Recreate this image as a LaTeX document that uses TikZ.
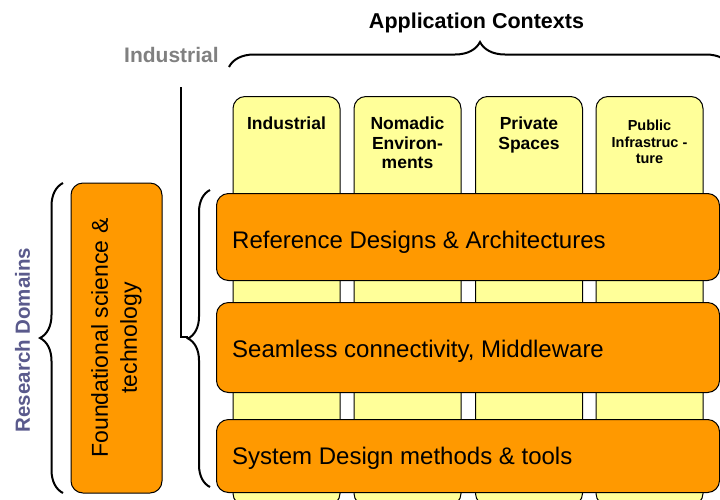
\documentclass[tikz,border=0pt]{standalone}
\usepackage{fontspec}
\setmainfont{Liberation Sans}
\usepackage{xcolor}
\usetikzlibrary{decorations.pathreplacing}

\definecolor{barorange}{RGB}{255,153,0}
\definecolor{colyellow}{RGB}{255,255,153}
\definecolor{domainblue}{RGB}{90,90,140}
\definecolor{ctxgray}{RGB}{128,128,128}

\begin{document}
\begin{tikzpicture}[x=1pt, y=-1pt,
  column/.style={rectangle, draw, line width=1pt, fill=colyellow, rounded corners=12pt,
    minimum width=107pt, minimum height=409pt, anchor=north, inner sep=0pt},
  bar/.style={rectangle, draw, line width=1pt, fill=barorange, rounded corners=12pt,
    minimum width=503pt, anchor=north west, inner sep=0pt},
  coltext/.style={font=\bfseries\fontsize{17.5}{19.5}\selectfont, align=center, anchor=north, inner sep=0pt},
  bartext/.style={font=\fontsize{24}{28}\selectfont, anchor=base west, inner sep=0pt},
  curly/.style={decorate, decoration={brace, amplitude=#1}, line width=2pt}]

\useasboundingbox (0,0) rectangle (720,499);
\clip (0,0) rectangle (720,499);

% Columns 
\node[column] at (286.5, 96) (c1) {} ; 
\node[column] at (407.5, 96) (c2) {} ; 
\node[column] at (529, 96) (c3) {} ; 
\node[column] at (649.5, 96) (c4) {} ; 
\node[coltext] at (286.5, 117) (t1) {Industrial} ; 
\node[coltext] at (407.5, 117) (t2) {Nomadic\\Environ-\\ments} ; 
\node[coltext] at (529, 117) (t3) {Private\\Spaces} ; 
\node[coltext, font=\bfseries\fontsize{14.5}{16.5}\selectfont] at (649.5, 120) (t4) {Public\\Infrastruc -\\ture} ; 

% Bars 
\node[bar, minimum height=87pt] at (216, 193) (b1) {} ; 
\node[bar, minimum height=90pt] at (216, 302) (b2) {} ; 
\node[bar, minimum height=73pt] at (216, 419) (b3) {} ; 
\node[bartext] at (232, 248) (bt1) {Reference Designs \& Architectures} ; 
\node[bartext] at (232, 357) (bt2) {Seamless connectivity, Middleware} ; 
\node[bartext] at (232, 464) (bt3) {System Design methods \& tools} ; 

% Foundation 
\node[rectangle, draw, line width=1pt, fill=barorange, rounded corners=12pt, rotate=90,
  minimum width=310pt, minimum height=91pt, align=center,
  font=\fontsize{23}{29}\selectfont] at (116.5, 338) (f) {Foundational science \&\\technology} ; 

% Labels 
\node[rotate=90, text=domainblue, font=\bfseries\fontsize{20.5}{24}\selectfont] at (22.5, 340) (rd) {Research Domains} ; 
\node[anchor=base west, inner sep=0pt, text=ctxgray, font=\bfseries\fontsize{21}{24}\selectfont] at (124, 62) (ind) {Industrial} ; 
\node[anchor=base, inner sep=0pt, font=\bfseries\fontsize{21.5}{24}\selectfont] at (476.5, 28) (ac) {Application Contexts} ; 

% Braces 
\coordinate (tip) at (188, 337) ; 
\coordinate (stem) at (181, 87) ; 
\draw[curly=25pt] (229, 67) -- (731, 67) ; 
\draw[curly=23pt] (63, 493) -- (63, 183) ; 
\draw[curly=22pt] (210, 487) -- (210, 190) ; 
\draw[line width = 2pt] (stem) |- (tip) ; 

\end{tikzpicture}
\end{document}
